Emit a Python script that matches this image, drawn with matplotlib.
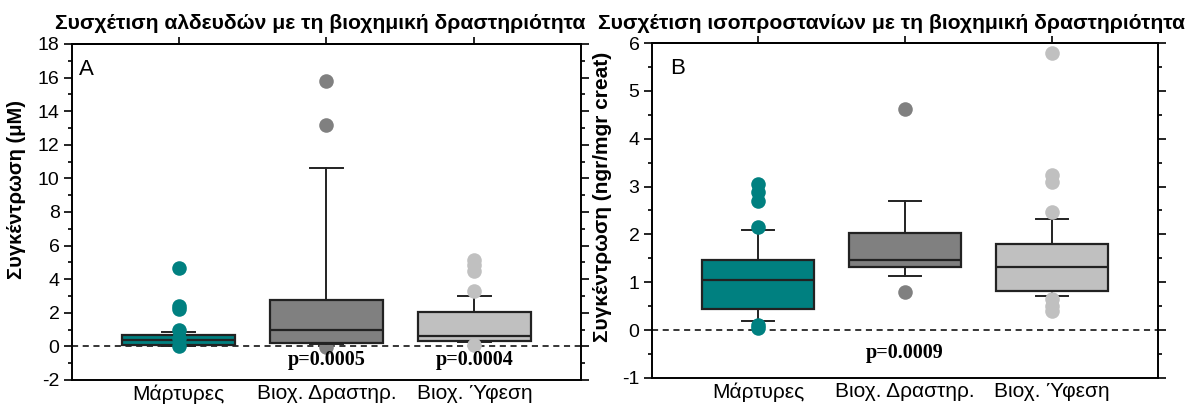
import matplotlib
matplotlib.use("Agg")
import matplotlib.pyplot as plt
from matplotlib.ticker import MultipleLocator

plt.rcParams["axes.unicode_minus"] = False

# category labels and colours
groups = ["Μάρτυρες", "Βιοχ. Δραστηρ.", "Βιοχ. Ύφεση"]
colors = ["#008080", "#808080", "#c0c0c0"]

# panel A: aldehydes (μM)
med_a = [0.38, 0.98, 0.62]
q1_a = [0.10, 0.20, 0.30]
q3_a = [0.68, 2.78, 2.04]
lo_a = [0.05, 0.12, 0.28]
hi_a = [0.85, 10.6, 3.0]
out_a = [[4.64, 2.42, 2.25, 1.0, 0.5, 0.0],
         [15.8, 13.15, -0.02],
         [5.15, 4.85, 4.5, 3.3, 0.1]]
p_a = ["", "p=0.0005", "p=0.0004"]

# panel B: isoprostanes (ngr/mgr creat)
med_b = [1.05, 1.47, 1.32]
q1_b = [0.45, 1.32, 0.82]
q3_b = [1.47, 2.03, 1.80]
lo_b = [0.19, 1.13, 0.72]
hi_b = [2.10, 2.70, 2.33]
out_b = [[3.05, 2.88, 2.7, 2.15, 0.1, 0.05],
         [4.63, 0.8],
         [5.8, 3.25, 3.1, 2.47, 0.65, 0.5, 0.4]]

SANS = ["Liberation Sans", "DejaVu Sans"]
SERIF = ["Liberation Serif", "DejaVu Serif"]


def make_stats(med, q1, q3, lo, hi):
    stats = []
    for i in range(len(med)):
        stats.append(dict(med=med[i], q1=q1[i], q3=q3[i],
                          whislo=lo[i], whishi=hi[i], fliers=[]))
    return stats


def boxpanel(ax, med, q1, q3, lo, hi, out, ylim, major, minor):
    pos = [1, 2, 3]
    ax.axhline(0, color="black", lw=1.1, ls=(0, (4, 3)), zorder=1)
    bp = ax.bxp(make_stats(med, q1, q3, lo, hi), positions=pos,
                widths=0.76, patch_artist=True, showfliers=False,
                capwidths=0.22,
                boxprops=dict(edgecolor="#222222", linewidth=1.6),
                medianprops=dict(color="#222222", linewidth=1.6),
                whiskerprops=dict(color="#222222", linewidth=1.4),
                capprops=dict(color="#222222", linewidth=1.4))
    for patch, c in zip(bp["boxes"], colors):
        patch.set_facecolor(c)
    for x, vals, c in zip(pos, out, colors):
        # the dark group's points sit behind its box, as in the original
        z = 1.5 if x == 2 else 5
        ax.scatter([x] * len(vals), vals, s=110, color=c, zorder=z,
                   linewidths=0)
    ax.set_xlim(0.28, 3.72)
    ax.set_ylim(*ylim)
    ax.yaxis.set_major_locator(MultipleLocator(major))
    ax.yaxis.set_minor_locator(MultipleLocator(minor))
    ax.set_xticks(pos)
    ax.set_xticklabels(groups, fontsize=15, family=SANS)
    ax.tick_params(axis="x", which="both", length=0, pad=3)
    ax.tick_params(axis="y", which="major", direction="out", length=6,
                   width=1.2, right=True, labelsize=14, pad=3)
    ax.tick_params(axis="y", which="minor", direction="out", length=3,
                   width=1.2, right=True)
    for lab in ax.get_yticklabels():
        lab.set_family(SANS)
    for side in ["left", "right", "top", "bottom"]:
        ax.spines[side].set_linewidth(1.4)
    # ticks on the top spine at the category positions
    top = ax.secondary_xaxis("top")
    top.set_xticks(pos)
    top.set_xticklabels([])
    top.tick_params(length=5, width=1.2, direction="out")
    top.spines["top"].set_linewidth(1.4)


fig = plt.figure(figsize=(11.95, 4.09), dpi=100)
ax1 = fig.add_axes([72 / 1195, 29 / 409, 509 / 1195, 336 / 409])
ax2 = fig.add_axes([652 / 1195, 31 / 409, 506 / 1195, 335 / 409])

boxpanel(ax1, med_a, q1_a, q3_a, lo_a, hi_a, out_a, (-2, 18), 2, 1)
boxpanel(ax2, med_b, q1_b, q3_b, lo_b, hi_b, out_b, (-1, 6), 1, 0.5)

for x, txt in zip([1, 2, 3], p_a):
    if txt:
        ax1.text(x, -0.8, txt, ha="center", va="center", fontsize=14.5,
                 fontweight="bold", family=SERIF, zorder=6)
ax2.text(2, -0.47, "p=0.0009", ha="center", va="center", fontsize=14.5,
         fontweight="bold", family=SERIF)

ax1.text(0.014, 0.955, "A", transform=ax1.transAxes, ha="left", va="top",
         fontsize=16, family=SANS)
ax2.text(0.035, 0.955, "B", transform=ax2.transAxes, ha="left", va="top",
         fontsize=16, family=SANS)

ax1.set_ylabel("Συγκέντρωση (μΜ)", fontsize=14.5, fontweight="bold",
               family=SANS)
ax2.set_ylabel("Συγκέντρωση (ngr/mgr creat)", fontsize=15,
               fontweight="bold", family=SANS)
ax1.yaxis.set_label_coords(-0.09, 0.568)
ax2.yaxis.set_label_coords(-0.08, 0.54)

fig.text(55 / 1195, 1 - 29 / 409,
         "Συσχέτιση αλδευδών με τη βιοχημική δραστηριότητα",
         fontsize=15.2, fontweight="bold", family=SANS, va="baseline")
fig.text(598 / 1195, 1 - 29 / 409,
         "Συσχέτιση ισοπροστανίων με τη βιοχημική δραστηριότητα",
         fontsize=15.2, fontweight="bold", family=SANS, va="baseline")

fig.savefig("out.png", dpi=100)
